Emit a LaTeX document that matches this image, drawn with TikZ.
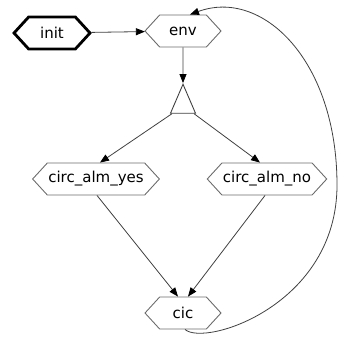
\documentclass[tikz,border=0pt]{standalone}
\usepackage{fontspec}
\setmainfont{DejaVu Sans}
\usetikzlibrary{shapes.symbols,shapes.geometric,arrows.meta}

\tikzset{
    state/.style={signal, signal to=west and east, signal pointer angle=95,
        draw=gray!85!black, line width=0.9pt, minimum height=32pt, minimum width=76pt,
        inner xsep=1pt, font=\fontsize{15}{17}\selectfont},
    start/.style={state, draw=black, line width=2.8pt},
    fork/.style={isosceles triangle, isosceles triangle stretches,
        shape border rotate=90, draw=gray!50!black, line width=0.9pt,
        minimum width=25pt, minimum height=29pt, inner sep=0pt},
    edge/.style={draw=black!75, line width=0.8pt,
        -{Triangle[length=9pt,width=7pt,fill=black,color=black]}}
}

\begin{document}
\begin{tikzpicture}[x=1pt,y=-1pt]
    \useasboundingbox (0,0) rectangle (339,338);

    \node[start] (init) at (52,33) {init};
    \node[state] (env)  at (183,31) {env};
    \node[fork]  (split) at (183,105) {};
    \node[state] (yes)  at (96,179) {circ\_alm\_yes};
    \node[state] (no)   at (267,179) {circ\_alm\_no};
    \node[state] (cic)  at (183,313) {cic};

    \draw[edge] (init) -- (env);
    \draw[edge] (env) -- (split.apex);
    \draw[edge] ([xshift=-11pt]split.south) -- ([xshift=4pt]yes.north);
    \draw[edge] ([xshift=11pt]split.south) -- ([xshift=-7pt]no.north);
    \draw[edge] ([xshift=1pt]yes.south) -- ([xshift=-5pt]cic.north);
    \draw[edge] ([xshift=-2pt]no.south) -- ([xshift=5pt]cic.north);

    % back edge round the right side
    \draw[edge] ([xshift=2pt]cic.south) .. controls (205,347) and (337,305) .. (337,185)
        .. controls (337,60) and (262,-12) .. ([xshift=7pt]env.north);
\end{tikzpicture}
\end{document}
